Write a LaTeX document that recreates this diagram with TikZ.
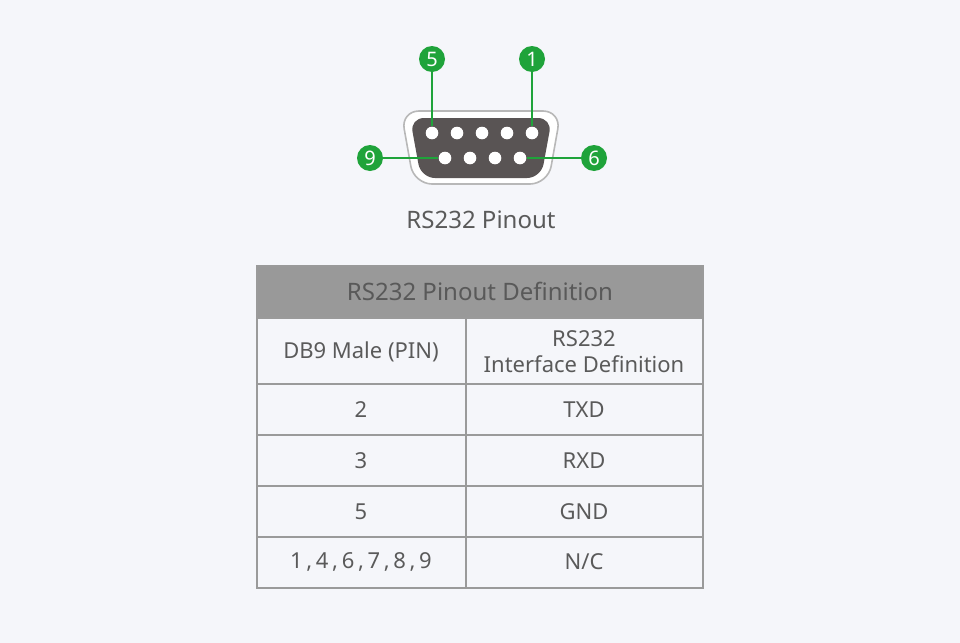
\documentclass[tikz,border=0pt]{standalone}
\usepackage{fontspec}
\setmainfont{Noto Sans}
\usetikzlibrary{backgrounds}
\definecolor{bgc}{HTML}{F5F6FA}
\definecolor{txt}{HTML}{5A5A5A}
\definecolor{pgreen}{HTML}{1FA33A}
\definecolor{body}{HTML}{595454}
\definecolor{hdr}{HTML}{999999}
\definecolor{grid}{HTML}{9A9A9A}
\tikzset{
  pin/.style={circle, fill=white, inner sep=0pt, minimum size=6.3pt},
  tag/.style={circle, fill=pgreen, text=white, inner sep=0pt, minimum size=13pt, font=\fontsize{10}{10}\selectfont\bfseries},
  cell/.style={text=txt, font=\fontsize{11}{13}\selectfont, align=center},
  lead/.style={pgreen, line width=1.1}
}
\begin{document}
\begin{tikzpicture}[x=0.5pt,y=-0.5pt]
  \fill[bgc] (0,0) rectangle (960,643);
  \useasboundingbox (0,0) rectangle (960,643);
  % connector shell
  \draw[grid!70, line width=0.8, fill=white, rounded corners=9]
    (401,111) -- (561,111) -- (548,184) -- (414,184) -- cycle;
  \fill[body, rounded corners=7]
    (410,118) -- (552,118) -- (541,178) -- (421,178) -- cycle;
  % pins
  \foreach \n/\x in {5/432,4/457,3/482,2/507,1/532}
    \node[pin] (p\n) at (\x,133) {};
  \foreach \n/\x in {9/445,8/470,7/495,6/520}
    \node[pin] (p\n) at (\x,158) {};
  % tags
  \node[tag] (t5) at (432,59) {5};
  \node[tag] (t1) at (532,59) {1};
  \node[tag] (t9) at (370,158) {9};
  \node[tag] (t6) at (594,158) {6};
  \draw[lead] (t5) -- (p5);
  \draw[lead] (t1) -- (p1);
  \draw[lead] (t9) -- (p9);
  \draw[lead] (t6) -- (p6);
  \node[cell, font=\fontsize{12}{14}\selectfont] (cap) at (481,220) {RS232 Pinout};
  % table
  \fill[hdr] (257,266) rectangle (703,318);
  \draw[grid, line width=0.6] (257,266) rectangle (703,588);
  \foreach \y in {318,384,435,486,537}
    \draw[grid, line width=0.6] (257,\y) -- (703,\y);
  \draw[grid, line width=0.6] (466,318) -- (466,588);
  \node[cell, text=black!65, font=\fontsize{12}{14}\selectfont] (h) at (480,291) {RS232 Pinout Definition};
  \node[cell] (a0) at (361,352) {DB9 Male (PIN)};
  \node[cell] (b0) at (584,352) {RS232\\Interface Definition};
  \node[cell] (a1) at (361,410) {2};
  \node[cell] (b1) at (584,410) {TXD};
  \node[cell] (a2) at (361,461) {3};
  \node[cell] (b2) at (584,461) {RXD};
  \node[cell] (a3) at (361,512) {5};
  \node[cell] (b3) at (584,512) {GND};
  \node[cell] (a4) at (361,562) {1\,,\,4\,,\,6\,,\,7\,,\,8\,,\,9};
  \node[cell] (b4) at (584,562) {N/C};
\end{tikzpicture}
\end{document}
